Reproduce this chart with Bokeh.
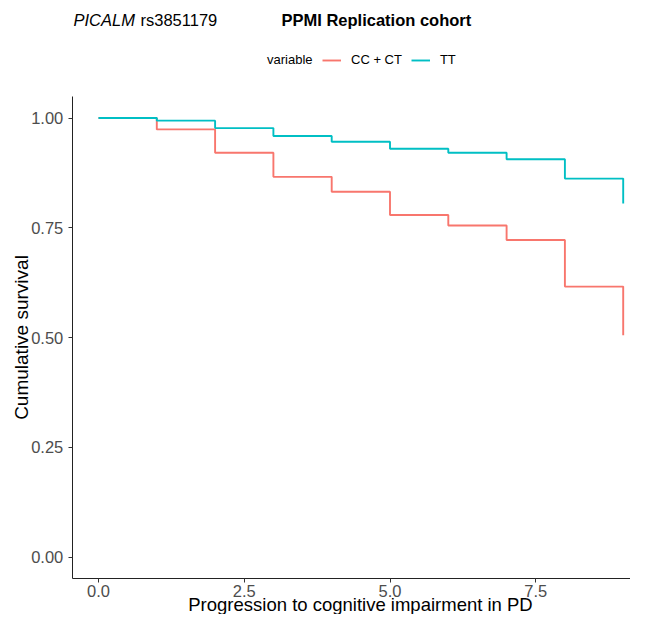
import math
from bokeh.plotting import figure
from bokeh.models import Label, Legend, LegendItem, FixedTicker, Range1d, LinearAxis
from bokeh.embed import file_html
from bokeh.resources import INLINE

# ---- data ----
time = [0, 1, 2, 3, 4, 5, 6, 7, 8, 9]
cc_ct = [1.000, 0.974, 0.921, 0.866, 0.832, 0.779, 0.755, 0.722, 0.616, 0.505]
tt = [1.000, 0.994, 0.977, 0.959, 0.946, 0.930, 0.921, 0.906, 0.862, 0.805]
series_names = ["CC + CT", "TT"]
series_colors = ["#F8766D", "#00BFC4"]
x_ticks = [0, 2.5, 5, 7.5]
x_tick_labels = ["0.0", "2.5", "5.0", "7.5"]
y_ticks = [0, 0.25, 0.5, 0.75, 1.0]
y_tick_labels = ["0.00", "0.25", "0.50", "0.75", "1.00"]

FONT = "Liberation Sans"

# ---- layout (pixel geometry of the canvas) ----
W, H = 630, 614
PX_X0 = 98.0      # canvas x of data x = 0
XS = 58.3         # px per x unit
PX_Y1 = 117.5     # canvas y of data y = 1
YS = 439.0        # px per y unit
AX_X0, AX_Y0 = -0.45, -0.05   # panel expansion (where the axes sit)
BASE_SHIFT = 6    # Label baseline correction (px)

def dx(px):
    return (px - PX_X0) / XS

def dy(py):
    return 1.0 - (py - PX_Y1) / YS

p = figure(width=W, height=H, title=None,
           x_range=Range1d(dx(0), dx(W)), y_range=Range1d(dy(H), dy(0)),
           x_axis_type=None, y_axis_type=None,
           output_backend="svg", toolbar_location=None,
           min_border=0, min_border_left=0, min_border_right=0,
           min_border_top=0, min_border_bottom=0)
p.background_fill_color = "white"
p.border_fill_color = "white"
p.outline_line_color = None

r1 = p.step(time, cc_ct, mode="after", line_color=series_colors[0], line_width=1.9)
r2 = p.step(time, tt, mode="after", line_color=series_colors[1], line_width=1.9)

# axes, placed at the expanded panel edges
xaxis = LinearAxis(fixed_location=AX_Y0, bounds=(AX_X0, dx(W)))
yaxis = LinearAxis(fixed_location=AX_X0, bounds=(AX_Y0, 1.05))
p.add_layout(xaxis, "below")
p.add_layout(yaxis, "left")
xaxis.ticker = FixedTicker(ticks=x_ticks)
xaxis.major_label_overrides = {t: l for t, l in zip(x_ticks, x_tick_labels)}
yaxis.ticker = FixedTicker(ticks=y_ticks)
yaxis.major_label_overrides = {t: l for t, l in zip(y_ticks, y_tick_labels)}
for ax in (xaxis, yaxis):
    ax.axis_line_color = "#222222"
    ax.axis_line_width = 1
    ax.major_tick_line_color = "#333333"
    ax.major_tick_in = 0
    ax.major_tick_out = 4
    ax.minor_tick_line_color = None
    ax.major_label_text_font = FONT
    ax.major_label_text_font_size = "16.5px"
    ax.major_label_text_color = "#4D4D4D"
xaxis.major_label_standoff = 2
yaxis.major_label_standoff = 5

# legend (screen px from the canvas bottom-left)
legend = Legend(items=[LegendItem(label=series_names[0], renderers=[r1]),
                       LegendItem(label=series_names[1], renderers=[r2])],
                location=(322, H - 53 - 14), orientation="horizontal",
                glyph_width=19, glyph_height=14, label_height=14,
                label_standoff=10, spacing=9, padding=0, margin=0,
                border_line_alpha=0, background_fill_alpha=0,
                label_text_font=FONT, label_text_font_size="13px",
                label_text_color="black")
p.add_layout(legend)

def lab(text, px, py, size, style="normal", align="left", angle=0.0, color="black"):
    p.add_layout(Label(x=dx(px), y=dy(py), text=text, text_font=FONT, text_font_size=size,
                       text_font_style=style, text_align=align,
                       text_baseline="alphabetic", angle=angle, text_color=color))

# header
lab("PICALM", 73, 25 - BASE_SHIFT, "16.5px", style="italic")
lab("rs3851179", 140, 25 - BASE_SHIFT, "16.5px")
lab("PPMI Replication cohort", 281, 25 - BASE_SHIFT, "16.5px", style="bold")
lab("variable", 312, 65 - BASE_SHIFT, "13px", align="right")

# axis titles
lab("Progression to cognitive impairment in PD", 360, 610 - BASE_SHIFT, "18.5px", align="center")
lab("Cumulative survival", 27 - BASE_SHIFT, 337, "19px", align="center", angle=math.pi / 2)

open("out.html", "w").write(file_html(p, INLINE))
